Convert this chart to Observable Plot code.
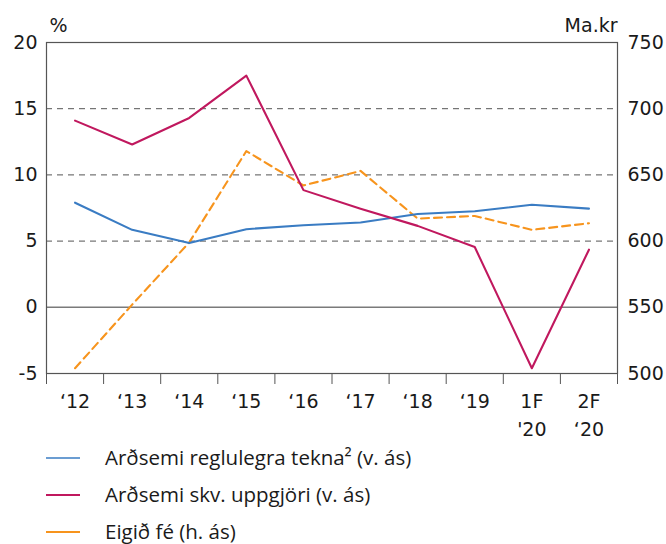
<!DOCTYPE html>
<html>
<head>
<meta charset="utf-8">
<script src="https://cdn.jsdelivr.net/npm/d3@7"></script>
<script src="https://cdn.jsdelivr.net/npm/@observablehq/plot@0.6"></script>
<style>
  html, body { margin: 0; padding: 0; background: #fff; }
  #chart { width: 666px; }
  .legend { font-family: "Open Sans", sans-serif; font-size: 20.5px; line-height: 24px; color: #1a1a1a; }
  .legend .row { position: relative; height: 37px; }
  .legend svg.sw { position: absolute; left: 46px; top: 50%; transform: translateY(-50%); }
  .legend .lab { position: absolute; left: 105px; top: 50%; transform: translateY(-54%); white-space: nowrap; }
</style>
</head>
<body>
<div id="chart"></div>
<script>
// Categories (x axis)
const categories = ["‘12", "‘13", "‘14", "‘15", "‘16", "‘17", "‘18", "‘19", "1F\n'20", "2F\n‘20"];
// Arðsemi reglulegra tekna (%, left axis)
const regular = [7.9, 5.85, 4.85, 5.9, 6.2, 6.4, 7.05, 7.25, 7.75, 7.45];
// Arðsemi skv. uppgjöri (%, left axis)
const reported = [14.1, 12.3, 14.3, 17.5, 8.85, 7.45, 6.15, 4.55, -4.6, 4.35];
// Eigið fé (Ma.kr, right axis)
const equity = [504, 552, 599, 668, 642, 653, 617, 619, 608.5, 613.5];
// Tick values
const leftTicks = [-5, 0, 5, 10, 15, 20];
const rightTicks = [500, 550, 600, 650, 700, 750];
const gridTicks = [5, 10, 15];

const colors = { regular: "#3a7cc3", reported: "#c0185e", equity: "#f7941d" };

// right-axis value -> left-axis scale
const toLeft = v => (v - 550) / 10;
const fromLeft = p => Math.round(p * 10 + 550);

const rows = (arr) => arr.map((v, i) => ({ i, v }));

const chart = Plot.plot({
  width: 666,
  height: 440,
  marginTop: 42,
  marginBottom: 67,
  marginLeft: 46,
  marginRight: 49,
  style: { fontFamily: "DejaVu Sans, sans-serif", fontSize: "19px", color: "#1a1a1a", background: "#fff" },
  x: { domain: [-0.5, categories.length - 0.5] },
  y: { domain: [-5, 20] },
  marks: [
    Plot.ruleY(gridTicks, { stroke: "#555", strokeWidth: 1, strokeDasharray: "6,5" }),
    Plot.ruleY([0], { stroke: "#7a7a7a", strokeWidth: 1.5 }),
    Plot.frame({ stroke: "#555", strokeWidth: 1.2 }),
    // band-boundary ticks
    Plot.axisX({ ticks: d3.range(categories.length + 1).map(i => i - 0.5), tickSize: 11, tickFormat: () => "", stroke: "#555", label: null }),
    // category labels
    Plot.axisX({ ticks: d3.range(categories.length), tickSize: 0, tickPadding: 15, tickFormat: i => categories[i], lineHeight: 1.45, fontSize: 19, label: null }),
    Plot.axisY({ ticks: leftTicks, tickSize: 0, tickPadding: 9, fontSize: 19, label: null, tickFormat: d => d }),
    Plot.axisY({ anchor: "right", ticks: rightTicks.map(toLeft), tickSize: 0, tickPadding: 10, fontSize: 19, label: null, tickFormat: p => fromLeft(p) }),
    Plot.text(["%"], { frameAnchor: "top-left", dx: 3, dy: -11, textAnchor: "start", lineAnchor: "bottom", fontSize: 19 }),
    Plot.text(["Ma.kr"], { frameAnchor: "top-right", dx: 0, dy: -11, textAnchor: "end", lineAnchor: "bottom", fontSize: 19 }),
    Plot.line(rows(equity), { x: "i", y: d => toLeft(d.v), stroke: colors.equity, strokeWidth: 2.1, strokeDasharray: "8,5" }),
    Plot.line(rows(regular), { x: "i", y: "v", stroke: colors.regular, strokeWidth: 2.1 }),
    Plot.line(rows(reported), { x: "i", y: "v", stroke: colors.reported, strokeWidth: 2.1 })
  ]
});
document.getElementById("chart").appendChild(chart);

// Legend (HTML, below the SVG)
const legendItems = [
  { label: "Arðsemi reglulegra tekna² (v. ás)", color: colors.regular, w: 1.3 },
  { label: "Arðsemi skv. uppgjöri (v. ás)", color: colors.reported, w: 2.2 },
  { label: "Eigið fé (h. ás)", color: colors.equity, w: 2.2 }
];
const legend = d3.select("body").append("div").attr("class", "legend").style("margin-top", "-1px");
legendItems.forEach(it => {
  const r = legend.append("div").attr("class", "row");
  const s = r.append("svg").attr("class", "sw").attr("width", 34).attr("height", 6);
  s.append("line").attr("x1", 0).attr("x2", 34).attr("y1", 3).attr("y2", 3)
    .attr("stroke", it.color).attr("stroke-width", it.w);
  r.append("div").attr("class", "lab").text(it.label);
});
</script>
</body>
</html>
